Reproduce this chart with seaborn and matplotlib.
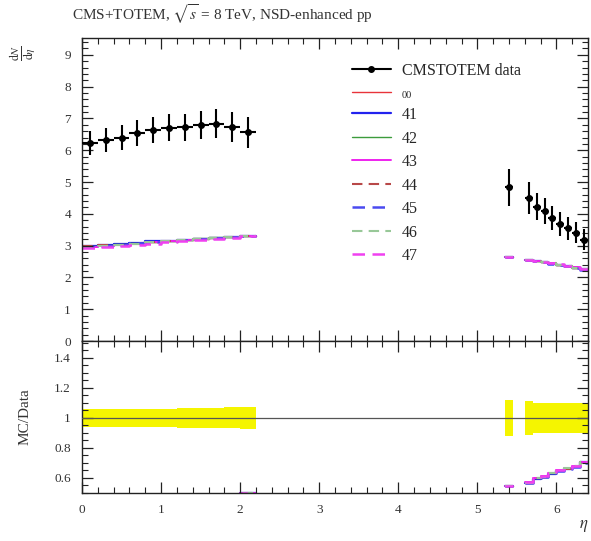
import numpy as np
import pandas as pd
import matplotlib
matplotlib.use("Agg")
import matplotlib.pyplot as plt
from matplotlib.ticker import MultipleLocator, FixedLocator, FixedFormatter
from matplotlib.lines import Line2D
import seaborn as sns

# ---- binning: central tracker (|eta| < 2.2) and forward T2 region ----
central_edges = [0.0, 0.2, 0.4, 0.6, 0.8, 1.0, 1.2, 1.4, 1.6, 1.8, 2.0, 2.2]
t2_first_edges = [5.35, 5.45]
t2_edges = [5.6, 5.7, 5.8, 5.9, 6.0, 6.1, 6.2, 6.3, 6.4]

# ---- measured dN/deta with total uncertainties ----
data_central = [6.22, 6.33, 6.40, 6.54, 6.64, 6.71, 6.72, 6.79, 6.83, 6.73, 6.57]
err_central = [0.37, 0.38, 0.39, 0.40, 0.41, 0.42, 0.43, 0.44, 0.46, 0.47, 0.49]
data_t2 = [4.84, 4.49, 4.22, 4.08, 3.87, 3.68, 3.55, 3.41, 3.19]
err_t2 = [0.58, 0.50, 0.43, 0.41, 0.39, 0.37, 0.36, 0.34, 0.32]

# ---- generator tunes: central bins, then the nine forward bins ----
tunes = ["00", "41", "42", "43", "44", "45", "46", "47"]
mc_central = {
    "00": [3.00, 3.02, 3.04, 3.07, 3.11, 3.15, 3.18, 3.21, 3.24, 3.27, 3.30],
    "41": [2.99, 3.02, 3.05, 3.09, 3.13, 3.16, 3.19, 3.22, 3.25, 3.28, 3.30],
    "42": [2.98, 3.01, 3.04, 3.08, 3.12, 3.16, 3.19, 3.23, 3.26, 3.28, 3.30],
    "43": [2.96, 2.99, 3.02, 3.06, 3.10, 3.14, 3.17, 3.20, 3.23, 3.26, 3.29],
    "44": [2.99, 3.01, 3.03, 3.06, 3.10, 3.15, 3.19, 3.21, 3.25, 3.27, 3.30],
    "45": [2.97, 3.00, 3.03, 3.07, 3.11, 3.14, 3.18, 3.21, 3.24, 3.27, 3.29],
    "46": [2.96, 2.99, 3.03, 3.06, 3.10, 3.14, 3.18, 3.22, 3.25, 3.27, 3.29],
    "47": [2.92, 2.95, 2.98, 3.02, 3.06, 3.11, 3.14, 3.17, 3.20, 3.23, 3.29],
}
mc_t2 = {
    "00": [2.65, 2.55, 2.52, 2.48, 2.44, 2.40, 2.36, 2.31, 2.25],
    "41": [2.64, 2.55, 2.51, 2.47, 2.43, 2.39, 2.35, 2.30, 2.25],
    "42": [2.65, 2.56, 2.52, 2.48, 2.44, 2.40, 2.36, 2.31, 2.26],
    "43": [2.64, 2.56, 2.53, 2.49, 2.45, 2.40, 2.36, 2.32, 2.26],
    "44": [2.65, 2.55, 2.52, 2.48, 2.44, 2.40, 2.35, 2.31, 2.25],
    "45": [2.64, 2.54, 2.51, 2.47, 2.43, 2.39, 2.35, 2.30, 2.24],
    "46": [2.65, 2.55, 2.52, 2.48, 2.44, 2.40, 2.36, 2.31, 2.25],
    "47": [2.64, 2.56, 2.53, 2.49, 2.45, 2.41, 2.36, 2.32, 2.26],
}

ratio_ticks = [0.6, 0.8, 1.0, 1.2, 1.4]
ratio_tick_labels = ["0.6", "0.8", "1", "1.2", "1.4"]

tune_colors = {"00": "#e8333a", "41": "#2222ee", "42": "#3c9c3c", "43": "#ee22ee",
               "44": "#b84848", "45": "#4a4af0", "46": "#98c898", "47": "#f040f0"}
tune_dashed = {"00": False, "41": False, "42": False, "43": False,
               "44": True, "45": True, "46": True, "47": True}
tune_width = {"00": 1.0, "41": 1.6, "42": 1.0, "43": 1.4,
              "44": 1.5, "45": 1.8, "46": 1.5, "47": 1.8}

sns.set_theme(style="ticks")
plt.rcParams.update({
    "font.family": ["Liberation Serif", "DejaVu Serif"],
    "mathtext.fontset": "stix",
    "axes.axisbelow": False,
    "xtick.direction": "in", "ytick.direction": "in",
    "xtick.top": True, "ytick.right": True,
    "xtick.bottom": True, "ytick.left": True,
    "xtick.minor.visible": True, "ytick.minor.visible": True,
    "xtick.major.size": 8, "ytick.major.size": 8,
    "xtick.minor.size": 4, "ytick.minor.size": 4,
    "xtick.major.width": 0.9, "ytick.major.width": 0.9,
    "xtick.minor.width": 0.8, "ytick.minor.width": 0.8,
    "xtick.color": "#222222", "ytick.color": "#222222",
    "xtick.labelcolor": "#333333", "ytick.labelcolor": "#333333",
    "xtick.labelsize": 9.5, "ytick.labelsize": 9.5,
    "xtick.major.pad": 8, "ytick.major.pad": 8,
    "axes.edgecolor": "#222222", "axes.linewidth": 1.0,
})

segments = [
    (central_edges, slice(0, 11)),
    (t2_first_edges, slice(0, 1)),
    (t2_edges, slice(1, 9)),
]


def step_frame(values_c, values_f):
    """Histogram-style step coordinates, one unit per contiguous segment."""
    rows = []
    for seg_id, (edges, sl) in enumerate(segments):
        vals = values_c[sl] if seg_id == 0 else values_f[sl]
        for e, v in zip(edges[:-1], vals):
            rows.append((seg_id, e, v))
        rows.append((seg_id, edges[-1], vals[-1]))
    return pd.DataFrame(rows, columns=["segment", "eta", "value"])


def tune_style(t):
    return dict(color=tune_colors[t], lw=tune_width[t],
                linestyle=(0, (5, 3)) if tune_dashed[t] else "-")


def style_ticks(axis_obj):
    """Force inward tick marks on both sides of one axis."""
    for ticks, size, width in ((axis_obj.get_major_ticks(), 8, 0.9),
                               (axis_obj.get_minor_ticks(), 4, 0.8)):
        for tk in ticks:
            for ln in (tk.tick1line, tk.tick2line):
                ln.set_visible(True)
                ln.set_markersize(size)
                ln.set_markeredgewidth(width)
                ln.set_color("#222222")
                ln.set_markeredgecolor("#222222")
                ln.set_alpha(1.0)
                ln.set_zorder(10)


fig = plt.figure(figsize=(5.91, 5.41), dpi=100)
W, H = 591.0, 541.0
left, right = 82, 588
ax = fig.add_axes([left / W, 1 - 341 / H, (right - left) / W, (341 - 38) / H])
rax = fig.add_axes([left / W, 1 - 493 / H, (right - left) / W, (493 - 341) / H])

# ---- main panel: generator histograms ----
for t in tunes:
    df = step_frame(mc_central[t], mc_t2[t])
    sns.lineplot(data=df, x="eta", y="value", units="segment", estimator=None,
                 drawstyle="steps-post", legend=False, ax=ax, zorder=2,
                 **tune_style(t))

# ---- main panel: measured points ----
t_bins = list(zip(central_edges[:-1], central_edges[1:]))
t_bins += [(t2_first_edges[0], t2_first_edges[1])] + list(zip(t2_edges[:-1], t2_edges[1:]))
centers = [0.5 * (a + b) for a, b in t_bins]
halfw = [0.5 * (b - a) for a, b in t_bins]
ax.errorbar(centers, data_central + data_t2, yerr=err_central + err_t2, xerr=halfw,
            fmt="o", color="black", ms=4, elinewidth=1.5, capsize=0, zorder=5)

ax.set_ylim(0, 9.53)
ax.yaxis.set_major_locator(FixedLocator(range(0, 10)))
ax.yaxis.set_minor_locator(MultipleLocator(0.2))
ax.set_xlabel("")
ax.set_ylabel("")

# legend
handles = [Line2D([], [], color="black", marker="o", ms=4, lw=1.5)]
for t in tunes:
    handles.append(Line2D([], [], **tune_style(t)))
leg = ax.legend(handles, ["CMSTOTEM data"] + tunes, loc="upper left",
                bbox_to_anchor=(0.534, 0.918), frameon=False, fontsize=11.5,
                handlelength=2.4, handletextpad=0.7, labelspacing=0.47,
                borderpad=0, borderaxespad=0)
leg.get_texts()[1].set_fontsize(7.5)

# ---- ratio panel ----
rel_central = [e / d for e, d in zip(err_central, data_central)]
rel_t2 = [e / d for e, d in zip(err_t2, data_t2)]
for seg_id, (edges, sl) in enumerate(segments):
    rel = rel_central[sl] if seg_id == 0 else rel_t2[sl]
    rel = list(rel) + [rel[-1]]
    rax.fill_between(edges, [1 - r for r in rel], [1 + r for r in rel],
                     step="post", color="#f5f500", lw=0, zorder=1)

rax.axhline(1.0, color="#555555", lw=0.9, zorder=3)

for t in tunes:
    rc = [m / d for m, d in zip(mc_central[t], data_central)]
    rf = [m / d for m, d in zip(mc_t2[t], data_t2)]
    df = step_frame(rc, rf)
    sns.lineplot(data=df, x="eta", y="value", units="segment", estimator=None,
                 drawstyle="steps-post", legend=False, ax=rax, zorder=2,
                 **tune_style(t))

rax.set_ylim(0.5, 1.513)
rax.yaxis.set_major_locator(FixedLocator(ratio_ticks))
rax.yaxis.set_major_formatter(FixedFormatter(ratio_tick_labels))
rax.yaxis.set_minor_locator(MultipleLocator(0.05))
rax.set_xlabel("")
rax.set_ylabel("")

for a in (ax, rax):
    a.set_xlim(0, 6.4)
    a.xaxis.set_major_locator(FixedLocator(range(0, 7)))
    a.xaxis.set_minor_locator(MultipleLocator(0.2))
    a.tick_params(which="both", direction="in", bottom=True, top=True,
                  left=True, right=True)
ax.tick_params(labelbottom=False)

# ---- labels ----
fig.text(72 / W, 1 - 14 / H, r"CMS+TOTEM, $\sqrt{s}$ = 8 TeV, NSD-enhanced pp",
         fontsize=11, ha="left", va="center", color="#333333")
fig.text(23 / W, 1 - 53 / H, r"$\frac{\mathrm{d}N}{\mathrm{d}\eta}$", rotation=90,
         fontsize=12, ha="center", va="center", color="#333333")
fig.text(25 / W, 1 - 417 / H, "MC/Data", rotation=90, fontsize=11,
         ha="center", va="center", color="#333333")
fig.text(584 / W, 1 - 526 / H, r"$\eta$", fontsize=12, ha="center", va="center",
         color="#333333")

# build the ticks, then make sure every tick mark is drawn
fig.canvas.draw()
for a in (ax, rax):
    style_ticks(a.xaxis)
    style_ticks(a.yaxis)

fig.savefig("out.png", dpi=100)
